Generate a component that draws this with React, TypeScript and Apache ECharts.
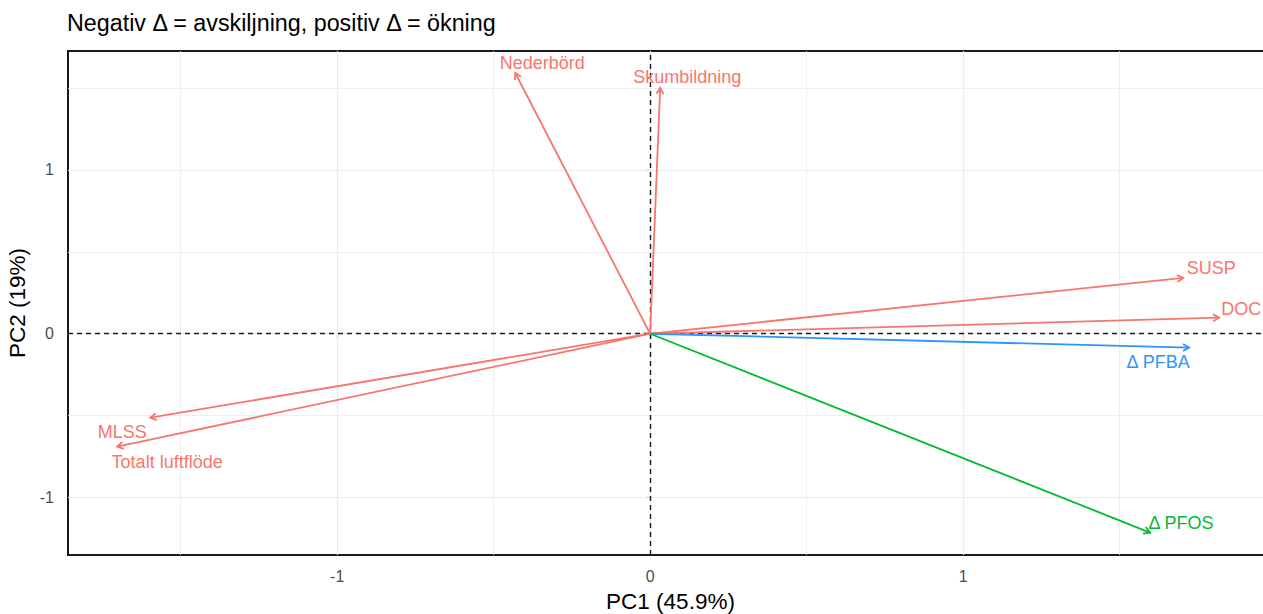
import React, { useEffect, useRef } from "react";
import * as echarts from "echarts";

// PCA variable loadings (biplot arrows)
const variables = [
  "Nederbörd",
  "Skumbildning",
  "SUSP",
  "DOC",
  "Δ PFBA",
  "Δ PFOS",
  "MLSS",
  "Totalt luftflöde",
];
const pc1 = [-0.431, 0.032, 1.703, 1.818, 1.722, 1.597, -1.597, -1.703];
const pc2 = [1.591, 1.5, 0.341, 0.098, -0.085, -1.213, -0.512, -0.689];

// Axis ticks and grid lines
const tickValues = [-1, 0, 1];
const xMinorGrid = [-1.5, -0.5, 0.5, 1.5];
const yMinorGrid = [-0.5, 0.5, 1.5];

const titleText = "Negativ Δ = avskiljning, positiv Δ = ökning";
const xName = "PC1 (45.9%)";
const yName = "PC2 (19%)";

// Styling per variable
const colorOf = (name: string) =>
  name === "Δ PFBA" ? "#2E95FF" : name === "Δ PFOS" ? "#00BA38" : "#F8766D";
const labelOffset: Record<string, [number, number]> = {
  "Nederbörd": [27, -10],
  "Skumbildning": [27, -11],
  SUSP: [28, -10],
  DOC: [22, -9],
  "Δ PFBA": [-31, 14],
  "Δ PFOS": [31, -10],
  MLSS: [-28, 14],
  "Totalt luftflöde": [50, 15],
};

const FONT = "'Liberation Sans', Arial, sans-serif";
const CHART_W = 1290;
const CHART_H = 614;

export default function App() {
  const ref = useRef<HTMLDivElement>(null);

  useEffect(() => {
    if (!ref.current) return;
    const chart = echarts.init(ref.current, undefined, { renderer: "svg" });

    const arrowData = variables.map((v, i) => [pc1[i], pc2[i], v]);

    const gridLineStyle = (w: number) => ({
      color: "#EBEBEB",
      width: w,
      type: "solid" as const,
    });

    const axisCommon = {
      type: "value" as const,
      nameLocation: "middle" as const,
      nameTextStyle: { fontFamily: FONT, fontSize: 22.5, color: "#000", lineHeight: 22 },
      axisLine: { show: false },
      axisTick: {
        show: true,
        length: 4,
        customValues: tickValues,
        lineStyle: { color: "#333", width: 1.2 },
      },
      axisLabel: {
        customValues: tickValues,
        fontFamily: FONT,
        fontSize: 16,
        color: "#4D4D4D",
        margin: 13,
      },
      splitLine: { show: false },
    };

    chart.setOption({
      animation: false,
      backgroundColor: "#ffffff",
      textStyle: { fontFamily: FONT },
      title: {
        text: titleText,
        left: 67,
        top: 11,
        padding: 0,
        textStyle: {
          fontFamily: FONT,
          fontSize: 23.3,
          fontWeight: "normal",
          color: "#000",
        },
      },
      grid: {
        left: 68,
        top: 51,
        right: CHART_W - 1273,
        bottom: CHART_H - 555,
        outerBoundsMode: "none",
        containLabel: false,
        show: true,
        borderColor: "#1a1a1a",
        borderWidth: 2,
        backgroundColor: "transparent",
      },
      xAxis: {
        ...axisCommon,
        min: -1.86,
        max: 1.99,
        name: xName,
        nameGap: 35,
      },
      yAxis: {
        ...axisCommon,
        min: -1.35,
        max: 1.725,
        name: yName,
        nameGap: 35,
        nameRotate: 90,
        axisLabel: { ...axisCommon.axisLabel, margin: 14 },
      },
      series: [
        {
          // background grid: major and minor lines
          type: "line",
          data: [],
          silent: true,
          markLine: {
            silent: true,
            symbol: "none",
            label: { show: false },
            z: 1,
            data: [
              ...tickValues.map((v) => ({ xAxis: v, lineStyle: gridLineStyle(1.2) })),
              ...tickValues.map((v) => ({ yAxis: v, lineStyle: gridLineStyle(1.2) })),
              ...xMinorGrid.map((v) => ({ xAxis: v, lineStyle: gridLineStyle(0.8) })),
              ...yMinorGrid.map((v) => ({ yAxis: v, lineStyle: gridLineStyle(0.8) })),
            ],
          },
        },
        {
          // dashed reference lines through the origin
          type: "line",
          data: [],
          silent: true,
          markLine: {
            silent: true,
            symbol: "none",
            label: { show: false },
            z: 2,
            lineStyle: { color: "#1a1a1a", width: 1.4, type: [5, 4] },
            data: [{ xAxis: 0 }, { yAxis: 0 }],
          },
        },
        {
          type: "custom",
          coordinateSystem: "cartesian2d",
          data: arrowData,
          z: 5,
          clip: false,
          renderItem: (params: any, api: any) => {
            const x = api.value(0);
            const y = api.value(1);
            const name = variables[params.dataIndex];
            const color = colorOf(name);
            const o = api.coord([0, 0]);
            const t = api.coord([x, y]);
            const ang = Math.atan2(t[1] - o[1], t[0] - o[0]);
            const head = 7;
            const spread = Math.PI / 6;
            const p1 = [
              t[0] - head * Math.cos(ang - spread),
              t[1] - head * Math.sin(ang - spread),
            ];
            const p2 = [
              t[0] - head * Math.cos(ang + spread),
              t[1] - head * Math.sin(ang + spread),
            ];
            const off = labelOffset[name] || [0, 0];
            return {
              type: "group",
              children: [
                {
                  type: "line",
                  shape: { x1: o[0], y1: o[1], x2: t[0], y2: t[1] },
                  style: { stroke: color, lineWidth: 1.8 },
                },
                {
                  type: "polyline",
                  shape: { points: [p1, t, p2] },
                  style: { stroke: color, lineWidth: 1.8, fill: "none" },
                },
                {
                  type: "text",
                  x: t[0] + off[0],
                  y: t[1] + off[1],
                  style: {
                    text: name,
                    fill: color,
                    fontFamily: FONT,
                    fontSize: 18,
                    align: "center",
                    verticalAlign: "middle",
                  },
                },
              ],
            };
          },
        },
      ],
    });

    return () => chart.dispose();
  }, []);

  return (
    <div
      style={{
        position: "fixed",
        left: 0,
        top: 0,
        width: 1263,
        height: 614,
        overflow: "hidden",
        background: "#fff",
      }}
    >
      <div ref={ref} style={{ width: CHART_W, height: CHART_H }} />
    </div>
  );
}
